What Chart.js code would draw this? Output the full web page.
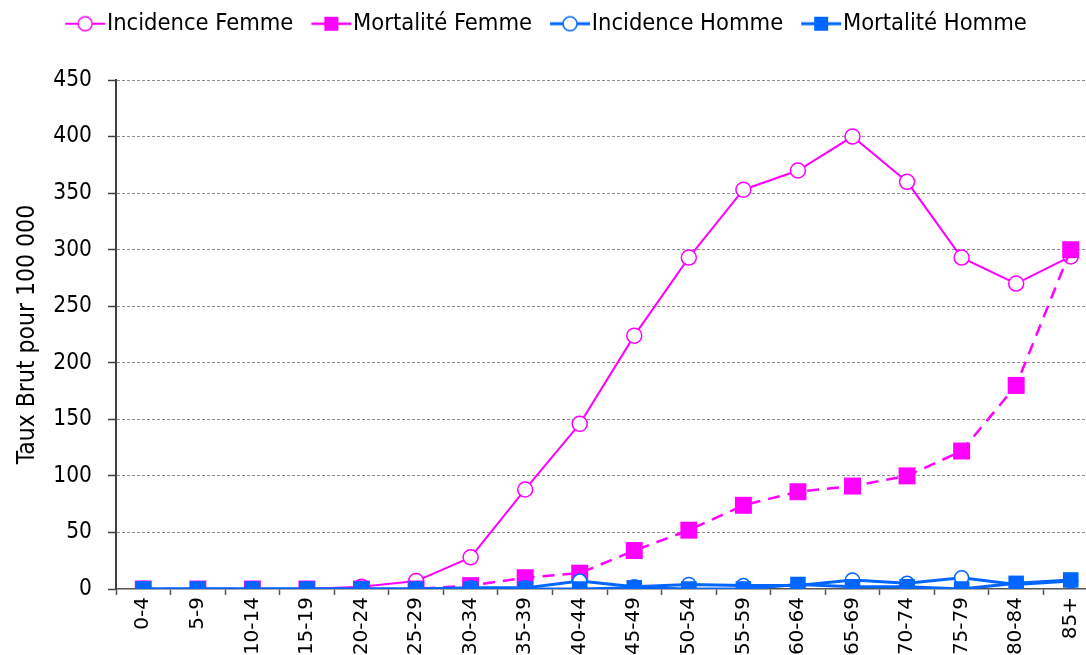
<!DOCTYPE html>
<html>
<head>
<meta charset="utf-8">
<script src="https://cdn.jsdelivr.net/npm/chart.js@4.4.1/dist/chart.umd.min.js"></script>
<style>
  html, body { margin: 0; padding: 0; background: #fff; overflow: hidden; }
  canvas { display: block; }
</style>
</head>
<body>
<canvas id="graphe" width="1110" height="655"></canvas>
<script>
// tranches d'age
var ageGroups = ['0-4','5-9','10-14','15-19','20-24','25-29','30-34','35-39','40-44',
                 '45-49','50-54','55-59','60-64','65-69','70-74','75-79','80-84','85+'];

// taux bruts pour 100 000
var incidenceFemme = [0,0,0,0,2,7,28,88,146,224,293,353,370,400,360,293,270,294];
var mortaliteFemme = [0,0,0,0,0,0,3,10,14,34,52,74,86,91,100,122,180,300];
var incidenceHomme = [0,0,0,0,0,0,1,1,7,2,4,3,3,8,5,10,4,7];
var mortaliteHomme = [0,0,0,0,0,0,0,0,0,1,0,0,4,2,2,0,5,8];

var yTicks = [0,50,100,150,200,250,300,350,400,450];

var ROSE = '#FF00FF';
var BLEU = '#0066FF';
var POLICE = 'DejaVu Sans';
var POLICE_ETROITE = 'DejaVu Sans Condensed';

// petite icone de legende : trait + marqueur (decalee vers la droite, collee au texte)
function iconeLegende(couleur, forme, epaisseur){
	var c = document.createElement('canvas');
	c.width = 80; c.height = 18;
	var ctx = c.getContext('2d');
	ctx.strokeStyle = couleur;
	ctx.lineWidth = epaisseur;
	ctx.beginPath(); ctx.moveTo(28, 9); ctx.lineTo(68, 9); ctx.stroke();
	if (forme == 'cercle') {
		ctx.fillStyle = '#fff';
		ctx.lineWidth = 1.5;
		ctx.beginPath(); ctx.arc(48, 9, 7, 0, Math.PI*2); ctx.fill(); ctx.stroke();
	} else {
		ctx.fillStyle = couleur;
		ctx.fillRect(41, 2, 14, 14);
	}
	return c;
}

var icones = [
	iconeLegende(ROSE, 'cercle', 2),
	iconeLegende(ROSE, 'carre', 2.5),
	iconeLegende(BLEU, 'cercle', 3),
	iconeLegende(BLEU, 'carre', 3)
];

// espace entre la legende et le graphique + legende un peu a gauche
var legendeHaute = {
	id: 'legendeHaute',
	beforeInit: function(chart){
		var fit = chart.legend.fit;
		chart.legend.fit = function(){
			fit.bind(chart.legend)();
			this.height = 80;
		};
	},
	afterLayout: function(chart){
		chart.legend.right -= 24;
	}
};

window.onload = function(){
	var ctx = document.getElementById('graphe').getContext('2d');

	new Chart(ctx, {
		type: 'line',
		data: {
			labels: ageGroups,
			datasets: [{
				label: 'Incidence Femme',
				data: incidenceFemme,
				borderColor: ROSE,
				borderWidth: 2,
				pointStyle: 'circle',
				pointRadius: 7.5,
				pointBorderWidth: 1.5,
				pointBackgroundColor: '#fff',
				pointBorderColor: ROSE,
				order: 3
			},{
				label: 'Mortalité Femme',
				data: mortaliteFemme,
				borderColor: ROSE,
				borderWidth: 2.5,
				borderDash: [12, 8],
				pointStyle: 'rect',
				pointRadius: 12,
				pointBorderWidth: 0,
				pointBackgroundColor: ROSE,
				pointBorderColor: ROSE,
				order: 2
			},{
				label: 'Incidence Homme',
				data: incidenceHomme,
				borderColor: BLEU,
				borderWidth: 3,
				pointStyle: 'circle',
				pointRadius: 7,
				pointBorderWidth: 1.5,
				pointBackgroundColor: '#fff',
				pointBorderColor: BLEU,
				order: 1
			},{
				label: 'Mortalité Homme',
				data: mortaliteHomme,
				borderColor: BLEU,
				borderWidth: 3,
				pointStyle: 'rect',
				pointRadius: 11,
				pointBorderWidth: 0,
				pointBackgroundColor: BLEU,
				pointBorderColor: BLEU,
				order: 0
			}]
		},
		options: {
			responsive: false,
			animation: false,
			layout: { padding: { left: 0, right: 0, top: 0, bottom: 0 } },
			plugins: {
				tooltip: { enabled: false },
				legend: {
					position: 'top',
					labels: {
						usePointStyle: true,
						pointStyleWidth: 36,
						padding: 12,
						color: '#000',
						font: { family: POLICE_ETROITE, size: 23.5 },
						sort: function(a, b){ return a.datasetIndex - b.datasetIndex; },
						generateLabels: function(chart){
							var items = Chart.defaults.plugins.legend.labels.generateLabels(chart);
							items.forEach(function(it){ it.pointStyle = icones[it.datasetIndex]; });
							return items;
						}
					}
				}
			},
			scales: {
				x: {
					offset: true,
					afterFit: function(scale){ scale.height = 66; },
					border: { display: true, color: '#555', width: 1.5 },
					grid: { display: true, drawOnChartArea: false, offset: true, tickLength: 6, tickColor: '#555', tickWidth: 1.5 },
					ticks: {
						color: '#000',
						font: { family: POLICE, size: 20 },
						minRotation: 90,
						maxRotation: 90,
						autoSkip: false,
						padding: 2
					}
				},
				y: {
					min: 0,
					max: 450,
					afterFit: function(scale){ scale.width = 116; },
					afterBuildTicks: function(scale){
						scale.ticks = yTicks.map(function(v){ return { value: v }; });
					},
					border: { display: true, color: '#404040', width: 2, dash: [3, 2] },
					grid: {
						color: function(c){ return c.tick && c.tick.value === 0 ? 'rgba(0,0,0,0)' : '#8c8c8c'; },
						lineWidth: 1,
						tickLength: 8,
						tickColor: '#404040',
						tickWidth: 1.5,
						tickBorderDash: []
					},
					ticks: {
						color: '#000',
						font: { family: POLICE_ETROITE, size: 22.5 },
						padding: 16
					},
					title: {
						display: true,
						text: 'Taux Brut pour 100 000',
						color: '#000',
						font: { family: POLICE_ETROITE, size: 24.5 },
						padding: { top: 13, bottom: 0 }
					}
				}
			}
		},
		plugins: [legendeHaute]
	});
};
</script>
</body>
</html>
